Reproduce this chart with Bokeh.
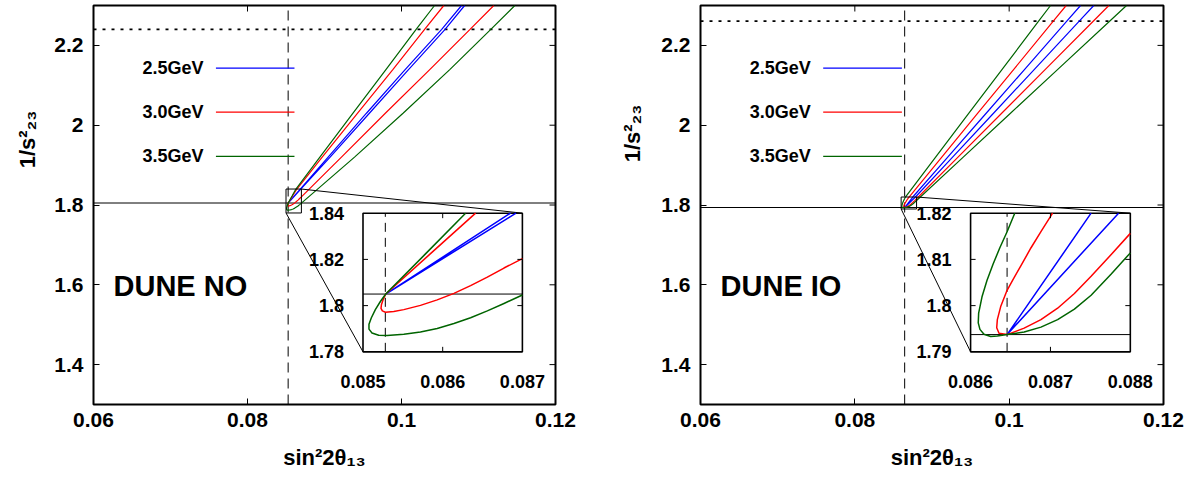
import math
from bokeh.plotting import figure
from bokeh.models import Range1d, FixedTicker, CustomJSTickFormatter, Label, Title
from bokeh.layouts import row
from bokeh.embed import file_html
from bokeh.resources import INLINE
from bokeh.core.properties import value

FONT = "Liberation Sans"

# ---------------- shared axes ----------------
X_RANGE = (0.06, 0.12)
Y_RANGE = (1.3, 2.3)
X_TICKS = [0.06, 0.08, 0.10, 0.12]
Y_TICKS = [1.4, 1.6, 1.8, 2.0, 2.2]
X_TITLE = "sin²2θ₁₃"
Y_TITLE = "1/s²₂₃"
ENERGY_LABELS = ["2.5GeV", "3.0GeV", "3.5GeV"]
ENERGY_COLORS = ["#0000ff", "#ff0000", "#006400"]

# ---------------- DUNE NO ----------------
NO_TITLE = "DUNE NO"
NO_TRUE_X = 0.08528
NO_TRUE_Y = 1.805
NO_DOTTED_Y = 2.24
NO_ZOOM_X = [0.085, 0.087]
NO_ZOOM_Y = [1.78, 1.84]
NO_INSET_XTICKS = [0.085, 0.086, 0.087]
NO_INSET_YTICKS = [1.78, 1.80, 1.82, 1.84]

NO_25_X = [0.10780, 0.10522, 0.10050, 0.09545, 0.09047, 0.08685, 0.085285,
           0.08692, 0.09073, 0.09583, 0.10094, 0.10566, 0.10820]
NO_25_Y = [2.30, 2.24, 2.14, 2.03, 1.92, 1.84, 1.805,
           1.84, 1.92, 2.03, 2.14, 2.24, 2.30]
NO_30_X = [0.10550, 0.10300, 0.09890, 0.09430, 0.08970, 0.086413, 0.085847, 0.085285,
           0.085252, 0.085231, 0.085226, 0.085243, 0.085281, 0.085386, 0.085512,
           0.085721, 0.085931, 0.086141, 0.08635, 0.08656, 0.086769, 0.087,
           0.09220, 0.09790, 0.10370, 0.10890, 0.11199]
NO_30_Y = [2.30, 2.24, 2.14, 2.03, 1.92, 1.84, 1.8225, 1.805,
           1.80249, 1.80038, 1.79883, 1.79771, 1.79715, 1.79743, 1.79827,
           1.8001, 1.80249, 1.8053, 1.80867, 1.81232, 1.81626, 1.82033,
           1.92, 2.03, 2.14, 2.24, 2.30]
NO_35_X = [0.10429, 0.10190, 0.09800, 0.09370, 0.08940, 0.086287, 0.085784, 0.085285,
           0.085218, 0.085155, 0.085105, 0.085075, 0.085075, 0.085113, 0.085197,
           0.085302, 0.085512, 0.085721, 0.085931, 0.086141, 0.08635, 0.08656,
           0.086769, 0.087,
           0.09390, 0.10020, 0.10630, 0.11160, 0.11472]
NO_35_Y = [2.30, 2.24, 2.14, 2.03, 1.92, 1.84, 1.8224, 1.805,
           1.80178, 1.79827, 1.79476, 1.79195, 1.78984, 1.78816, 1.78718,
           1.78703, 1.78759, 1.78858, 1.79012, 1.79223, 1.79476, 1.79771,
           1.80094, 1.80459,
           1.92, 2.03, 2.14, 2.24, 2.30]

# ---------------- DUNE IO ----------------
IO_TITLE = "DUNE IO"
IO_TRUE_X = 0.086457
IO_TRUE_Y = 1.79373
IO_DOTTED_Y = 2.261
IO_ZOOM_X = [0.086, 0.088]
IO_ZOOM_Y = [1.79, 1.82]
IO_INSET_XTICKS = [0.086, 0.087, 0.088]
IO_INSET_YTICKS = [1.79, 1.80, 1.81, 1.82]

IO_25_X = [0.10925, 0.10744, 0.10201, 0.09702, 0.09204, 0.087509, 0.086457,
           0.087853, 0.09267, 0.09797, 0.10327, 0.10905, 0.11097]
IO_25_Y = [2.30, 2.26, 2.14, 2.03, 1.92, 1.82, 1.79373,
           1.82, 1.92, 2.03, 2.14, 2.26, 2.30]
IO_30_X = [0.10739, 0.10569, 0.10060, 0.09593, 0.09127, 0.087027, 0.086881, 0.086755,
           0.086629, 0.086524, 0.086457, 0.086377, 0.086335, 0.086327, 0.086356,
           0.086457,
           0.086671, 0.086881, 0.08709, 0.0873, 0.087509, 0.087761, 0.088,
           0.09337, 0.09903, 0.10469, 0.11086, 0.11292]
IO_30_Y = [2.30, 2.26, 2.14, 2.03, 1.92, 1.82, 1.81599, 1.81247,
           1.80859, 1.80542, 1.80331, 1.79979, 1.79697, 1.79521, 1.79401,
           1.79373,
           1.79514, 1.79697, 1.79944, 1.80261, 1.80634, 1.81106, 1.81563,
           1.92, 2.03, 2.14, 2.26, 2.30]
IO_35_X = [0.10536, 0.10379, 0.09909, 0.09478, 0.09047, 0.086553, 0.086457, 0.086365,
           0.086281, 0.086205, 0.086143, 0.086101, 0.086096, 0.086117, 0.086168,
           0.086252, 0.086335, 0.086457,
           0.086671, 0.086881, 0.08709, 0.0873, 0.087509, 0.087761, 0.088,
           0.09405, 0.10017, 0.10630, 0.11298, 0.11521]
IO_35_Y = [2.30, 2.26, 2.14, 2.03, 1.92, 1.82, 1.81599, 1.81247,
           1.80894, 1.80542, 1.8019, 1.79838, 1.79627, 1.79486, 1.7938,
           1.79331, 1.79345, 1.79373,
           1.79429, 1.79535, 1.79697, 1.79923, 1.80225, 1.80683, 1.81141,
           1.92, 2.03, 2.14, 2.26, 2.30]

# ---------------- layout constants (not data) ----------------
INSET_BOX = (0.0950, 0.1157, 1.432, 1.7795)   # where the inset sits, in main units
LEG_LINE_X = (0.0759, 0.0861)
LEG_TEXT_X = 0.0743
LEG_Y = [2.143, 2.033, 1.922]
TAG_POS = (0.0626, 1.597)

NO_GEOM = dict(width=598, height=482, min_border_left=93, min_border_right=43,
               min_border_top=5, min_border_bottom=75)
IO_GEOM = dict(width=597, height=482, min_border_left=102, min_border_right=32,
               min_border_top=2, min_border_bottom=78)


def clip_polyline(xs, ys, x0, x1, y0, y1):
    out = []
    cx, cy = [], []
    for i in range(len(xs) - 1):
        ax, ay, bx, by = xs[i], ys[i], xs[i + 1], ys[i + 1]
        dx, dy = bx - ax, by - ay
        t0, t1 = 0.0, 1.0
        vis = True
        for pp, qq in ((-dx, ax - x0), (dx, x1 - ax), (-dy, ay - y0), (dy, y1 - ay)):
            if pp == 0:
                if qq < 0:
                    vis = False
                    break
            else:
                r = qq / pp
                if pp < 0:
                    if r > t1:
                        vis = False
                        break
                    t0 = max(t0, r)
                else:
                    if r < t0:
                        vis = False
                        break
                    t1 = min(t1, r)
        if not vis:
            if len(cx) > 1:
                out.append((cx, cy))
            cx, cy = [], []
            continue
        if not cx or t0 > 0:
            if len(cx) > 1:
                out.append((cx, cy))
            cx, cy = [ax + t0 * dx], [ay + t0 * dy]
        cx.append(ax + t1 * dx)
        cy.append(ay + t1 * dy)
        if t1 < 1:
            out.append((cx, cy))
            cx, cy = [], []
    if len(cx) > 1:
        out.append((cx, cy))
    return out


FMT = CustomJSTickFormatter(code="return String(parseFloat(tick.toFixed(4)));")


def txt(v):
    return "%g" % v


def build_panel(tag, true_x, true_y, dotted_y, curves, zoom_x, zoom_y,
                inset_xticks, inset_yticks, geom, ytitle_offset, ytitle_standoff):
    p = figure(x_range=Range1d(*X_RANGE), y_range=Range1d(*Y_RANGE),
               output_backend="svg", toolbar_location=None, **geom)
    p.xgrid.visible = False
    p.ygrid.visible = False
    p.outline_line_color = "black"
    p.outline_line_width = 2
    p.background_fill_color = "white"
    p.border_fill_color = "white"

    for ax, ticks in ((p.xaxis[0], X_TICKS), (p.yaxis[0], Y_TICKS)):
        ax.ticker = FixedTicker(ticks=ticks)
        ax.formatter = FMT
        ax.axis_line_color = None
        ax.major_tick_in = 6
        ax.major_tick_out = 0
        ax.major_tick_line_color = "black"
        ax.major_tick_line_width = 1
        ax.minor_tick_line_color = None
        ax.major_label_text_font = FONT
        ax.major_label_text_font_style = "bold"
        ax.major_label_text_font_size = "21px"
        ax.major_label_text_color = "black"
        ax.major_label_standoff = 10
    xa = p.xaxis[0]
    xa.major_label_standoff = 8
    xa.axis_label = X_TITLE
    xa.axis_label_standoff = 15
    xa.axis_label_text_font = FONT
    xa.axis_label_text_font_style = "bold"
    xa.axis_label_text_font_size = "22px"
    xa.axis_label_text_color = "black"

    p.add_layout(Title(text=Y_TITLE, align="right", offset=ytitle_offset,
                       standoff=ytitle_standoff,
                       text_font=FONT, text_font_style="bold", text_font_size="22px",
                       text_color="black"), "left")

    # mirrored inward ticks on top and right
    p.ray(x=X_TICKS, y=[Y_RANGE[1]] * len(X_TICKS), angle=-math.pi / 2, length=6,
          length_units="screen", line_color="black", line_width=1)
    p.ray(x=[X_RANGE[1]] * len(Y_TICKS), y=Y_TICKS, angle=math.pi, length=6,
          length_units="screen", line_color="black", line_width=1)

    # reference lines
    p.line([true_x, true_x], list(Y_RANGE), line_color="black", line_width=1, line_dash="10 6")
    p.line(list(X_RANGE), [true_y, true_y], line_color="black", line_width=1)
    p.line(list(X_RANGE), [dotted_y, dotted_y], line_color="black", line_width=1.8, line_dash="3 6")

    # main curves
    for (xs, ys), col in zip(curves, ENERGY_COLORS):
        p.line(xs, ys, line_color=col, line_width=1.2)

    # zoom box + connectors
    p.quad(left=zoom_x[0], right=zoom_x[1], bottom=zoom_y[0], top=zoom_y[1],
           fill_color=None, line_color="black", line_width=1)
    p.segment(x0=[zoom_x[1], zoom_x[0]], y0=[zoom_y[1], zoom_y[0]],
              x1=[INSET_BOX[1], INSET_BOX[0]], y1=[INSET_BOX[3], INSET_BOX[2]],
              line_color="black", line_width=1)

    # inset ranges (map zoomed data onto the inset box)
    sx = (zoom_x[1] - zoom_x[0]) / (INSET_BOX[1] - INSET_BOX[0])
    sy = (zoom_y[1] - zoom_y[0]) / (INSET_BOX[3] - INSET_BOX[2])
    p.extra_x_ranges = {"ix": Range1d(zoom_x[0] + (X_RANGE[0] - INSET_BOX[0]) * sx,
                                      zoom_x[0] + (X_RANGE[1] - INSET_BOX[0]) * sx)}
    p.extra_y_ranges = {"iy": Range1d(zoom_y[0] + (Y_RANGE[0] - INSET_BOX[2]) * sy,
                                      zoom_y[0] + (Y_RANGE[1] - INSET_BOX[2]) * sy)}
    kw = dict(x_range_name="ix", y_range_name="iy")

    p.quad(left=zoom_x[0], right=zoom_x[1], bottom=zoom_y[0], top=zoom_y[1],
           fill_color="white", line_color="black", line_width=1.6, **kw)
    p.line([true_x, true_x], list(zoom_y), line_color="black", line_width=1,
           line_dash="9 6", **kw)
    p.line(list(zoom_x), [true_y, true_y], line_color="black", line_width=1, **kw)
    for (xs, ys), col in zip(curves, ENERGY_COLORS):
        parts = clip_polyline(xs, ys, zoom_x[0], zoom_x[1], zoom_y[0], zoom_y[1])
        if parts:
            p.multi_line(xs=[a for a, b in parts], ys=[b for a, b in parts],
                         line_color=col, line_width=1.5, line_join="round", **kw)

    # inset inward ticks
    inner_x = [t for t in inset_xticks if zoom_x[0] < t < zoom_x[1]]
    inner_y = [t for t in inset_yticks if zoom_y[0] < t < zoom_y[1]]
    rx = inner_x + inner_x + [zoom_x[0]] * len(inner_y) + [zoom_x[1]] * len(inner_y)
    ry = [zoom_y[0]] * len(inner_x) + [zoom_y[1]] * len(inner_x) + inner_y + inner_y
    ra = ([math.pi / 2] * len(inner_x) + [-math.pi / 2] * len(inner_x)
          + [0.0] * len(inner_y) + [math.pi] * len(inner_y))
    p.ray(x=rx, y=ry, angle=ra, length=5, length_units="screen",
          line_color="black", line_width=1, **kw)

    # inset tick labels
    p.text(x=[zoom_x[0]] * len(inset_yticks), y=inset_yticks,
           text=[txt(t) for t in inset_yticks],
           text_align="right", text_baseline="middle", x_offset=-19,
           text_font=value(FONT), text_font_style="bold", text_font_size="18px",
           text_color="black", **kw)
    p.text(x=inset_xticks, y=[zoom_y[0]] * len(inset_xticks),
           text=[txt(t) for t in inset_xticks],
           text_align="center", text_baseline="top", y_offset=23,
           text_font=value(FONT), text_font_style="bold", text_font_size="18px",
           text_color="black", **kw)

    # legend (label left of sample line)
    for lab, col, ly in zip(ENERGY_LABELS, ENERGY_COLORS, LEG_Y):
        p.line(list(LEG_LINE_X), [ly, ly], line_color=col, line_width=1.3)
        p.text(x=[LEG_TEXT_X], y=[ly], text=[lab], text_align="right",
               text_baseline="middle", text_font=value(FONT), text_font_style="bold",
               text_font_size="18px", text_color="black")

    p.add_layout(Label(x=TAG_POS[0], y=TAG_POS[1], text=tag, text_font=FONT,
                       text_font_style="bold", text_font_size="29px",
                       text_baseline="middle", text_color="black"))
    return p


p_no = build_panel(NO_TITLE, NO_TRUE_X, NO_TRUE_Y, NO_DOTTED_Y,
                   [(NO_25_X, NO_25_Y), (NO_30_X, NO_30_Y), (NO_35_X, NO_35_Y)],
                   NO_ZOOM_X, NO_ZOOM_Y, NO_INSET_XTICKS, NO_INSET_YTICKS, NO_GEOM,
                   105, 24)
p_io = build_panel(IO_TITLE, IO_TRUE_X, IO_TRUE_Y, IO_DOTTED_Y,
                   [(IO_25_X, IO_25_Y), (IO_30_X, IO_30_Y), (IO_35_X, IO_35_Y)],
                   IO_ZOOM_X, IO_ZOOM_Y, IO_INSET_XTICKS, IO_INSET_YTICKS, IO_GEOM,
                   99, 28)

p = row(p_no, p_io)
open("out.html", "w").write(file_html(p, INLINE))
